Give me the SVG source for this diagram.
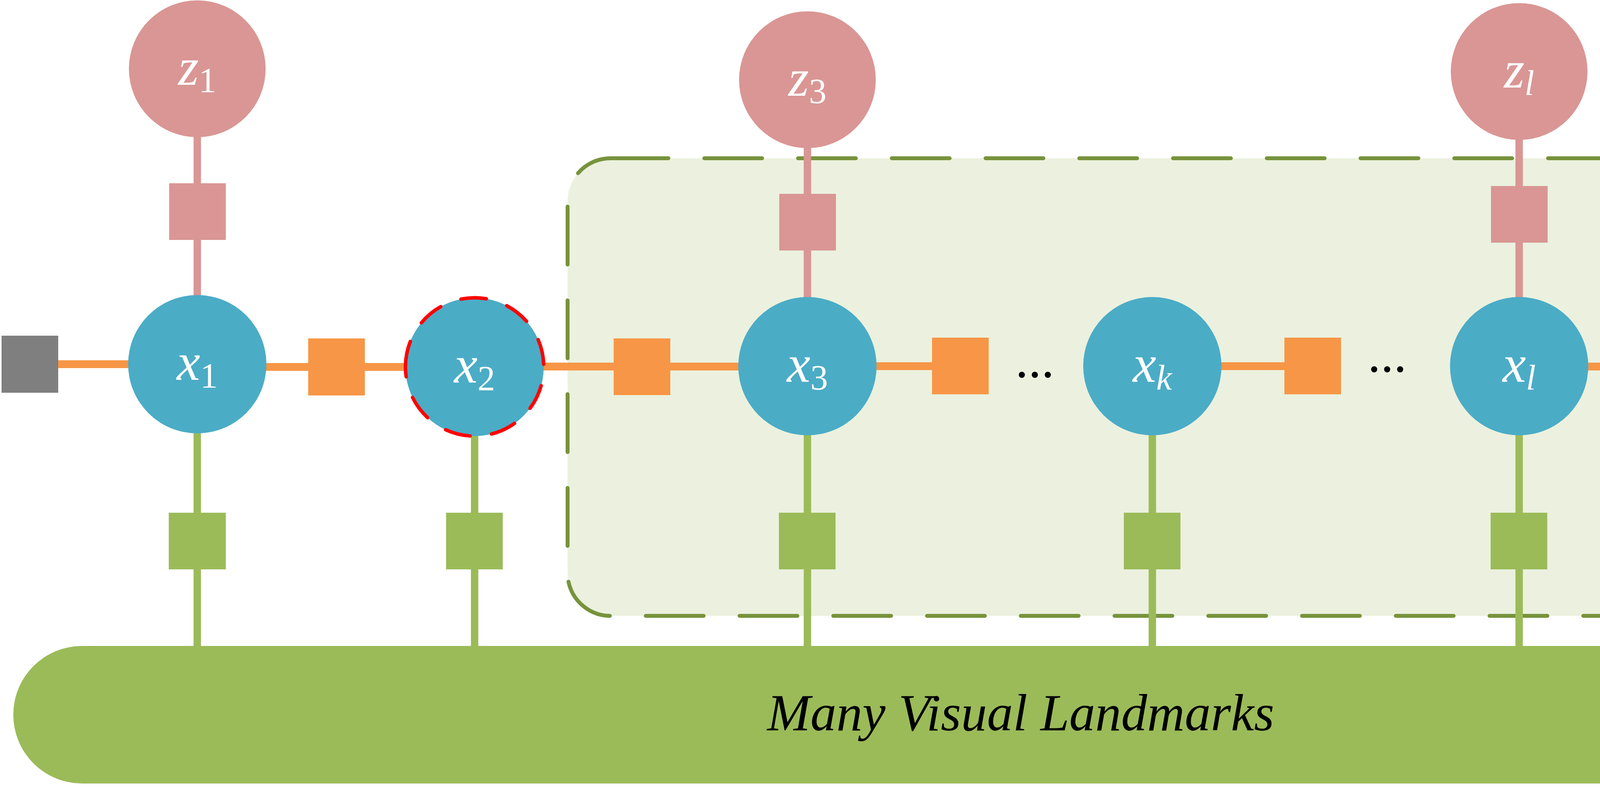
<svg xmlns="http://www.w3.org/2000/svg" width="7420" height="2060" viewBox="0 0 7420 2060">
<style>
text{font-family:'Liberation Serif','Times New Roman',serif}
.t{font-style:italic;font-size:133px;fill:#000}
.lab{font-style:italic;font-size:135px;fill:#fff}
.sub{font-size:90px;font-style:normal}
.subi{font-size:90px;font-style:italic}
.dots{font-size:133px;fill:#000}
.state{fill:#4BACC6}
.meas{fill:#D99694}
.lblf{fill:#D99694}
.imuf{fill:#F79646}
.repf{fill:#9BBB59}
.prior{fill:#7F7F7F}
.lo{stroke:#F79646;stroke-width:20;fill:none}
.lp{stroke:#D99694;stroke-width:19;fill:none}
.lg{stroke:#9BBB59;stroke-width:19;fill:none}
.marg{fill:none;stroke:#FF0000;stroke-width:9;stroke-dasharray:65 55.5;stroke-linecap:round}
</style>
<rect width="7420" height="2060" fill="#fff"/>
<g id="slide-window">
<rect x="1453" y="405" width="2931" height="1171" rx="110" ry="110" fill="#EBF1DE" stroke="#77933C" stroke-width="10" stroke-dasharray="148 92" stroke-linecap="round"/>
</g>
<g id="landmarks">
<rect x="34" y="1653" width="5159" height="352" rx="176" ry="176" fill="#9BBB59"/>
<text class="t" x="2613" y="1869" text-anchor="middle">Many Visual Landmarks</text>
</g>
<g id="connectors">
<line class="lo" x1="149" y1="932" x2="505" y2="932"/>
<line class="lo" x1="505" y1="939" x2="1215" y2="939"/>
<line class="lo" x1="1215" y1="938" x2="2067" y2="938"/>
<line class="lo" x1="2067" y1="937" x2="2458" y2="937"/>
<line class="lo" x1="2950" y1="937" x2="3360" y2="937"/>
<line class="lo" x1="3889" y1="938" x2="4250" y2="938"/>
<line class="lo" x1="4717" y1="940" x2="5004" y2="940" stroke-linecap="round"/>
<line class="lp" x1="505" y1="176" x2="505" y2="932"/>
<line class="lp" x1="2067" y1="204" x2="2067" y2="937"/>
<line class="lp" x1="3889" y1="183" x2="3889" y2="937"/>
<line class="lp" x1="4717" y1="204" x2="4717" y2="940"/>
<line class="lg" x1="505" y1="932" x2="505" y2="1660"/>
<line class="lg" x1="1215" y1="939" x2="1215" y2="1660"/>
<line class="lg" x1="2067" y1="937" x2="2067" y2="1660"/>
<line class="lg" x1="2950" y1="937" x2="2950" y2="1660"/>
<line class="lg" x1="3889" y1="937" x2="3889" y2="1660"/>
<line class="lg" x1="4717" y1="940" x2="4717" y2="1660"/>
</g>
<g id="prior-factor"><rect class="prior" x="4" y="859" width="145" height="146"/></g>
<g id="lbl-factors">
<rect class="lblf" x="433" y="469" width="145" height="145"/>
<rect class="lblf" x="1995" y="496" width="145" height="145"/>
<rect class="lblf" x="3817" y="476" width="145" height="145"/>
<rect class="lblf" x="4645" y="496" width="145" height="145"/>
</g>
<g id="imu-factors">
<rect class="imuf" x="789" y="866" width="145" height="146"/>
<rect class="imuf" x="1571" y="866" width="145" height="145"/>
<rect class="imuf" x="2386" y="864" width="145" height="145"/>
<rect class="imuf" x="3288" y="864" width="145" height="145"/>
<rect class="imuf" x="4178" y="866" width="145" height="145"/>
</g>
<g id="reprojection-factors">
<rect class="repf" x="432" y="1312" width="146" height="145"/>
<rect class="repf" x="1142" y="1312" width="145" height="145"/>
<rect class="repf" x="1994" y="1312" width="145" height="145"/>
<rect class="repf" x="2877" y="1312" width="145" height="145"/>
<rect class="repf" x="3816" y="1312" width="145" height="145"/>
<rect class="repf" x="4644" y="1312" width="145" height="145"/>
</g>
<g id="z1"><circle class="meas" cx="505" cy="176" r="175"/><text class="lab" x="505" y="217" text-anchor="middle">z<tspan class="sub" dy="19">1</tspan></text></g>
<g id="z3"><circle class="meas" cx="2067" cy="204" r="175"/><text class="lab" x="2067" y="245" text-anchor="middle">z<tspan class="sub" dy="19">3</tspan></text></g>
<g id="zl"><circle class="meas" cx="3889" cy="183" r="175"/><text class="lab" x="3889" y="224" text-anchor="middle">z<tspan class="subi" dy="19">l</tspan></text></g>
<g id="zn"><circle class="meas" cx="4717" cy="204" r="175"/><text class="lab" x="4717" y="243" text-anchor="middle">z<tspan class="subi" dy="19">n</tspan></text></g>
<g id="x1"><circle class="state" cx="505" cy="932" r="177"/><text class="lab" x="505" y="972" text-anchor="middle">x<tspan class="sub" dy="20">1</tspan></text></g>
<g id="x2"><circle class="state" cx="1215" cy="939" r="177"/><circle class="marg" cx="1215" cy="939" r="177" transform="rotate(180.6 1215 939)"/><text class="lab" x="1215" y="979" text-anchor="middle">x<tspan class="sub" dy="20">2</tspan></text></g>
<g id="x3"><circle class="state" cx="2067" cy="937" r="177"/><text class="lab" x="2067" y="977" text-anchor="middle">x<tspan class="sub" dy="20">3</tspan></text></g>
<g id="xk"><circle class="state" cx="2950" cy="937" r="177"/><text class="lab" x="2950" y="977" text-anchor="middle">x<tspan class="subi" dy="20">k</tspan></text></g>
<g id="xl"><circle class="state" cx="3889" cy="937" r="177"/><text class="lab" x="3889" y="977" text-anchor="middle">x<tspan class="subi" dy="20">l</tspan></text></g>
<g id="xn"><circle class="state" cx="4717" cy="940" r="177"/><text class="lab" x="4717" y="980" text-anchor="middle">x<tspan class="subi" dy="20">n</tspan></text></g>
<g id="ellipses">
<text class="dots" x="2649" y="965" text-anchor="middle">...</text>
<text class="dots" x="3551" y="951" text-anchor="middle">...</text>
<text class="dots" x="4457" y="947" text-anchor="middle">...</text>
<text class="dots" x="5107" y="953" text-anchor="middle">...</text>
</g>
<g id="legend">
<rect class="prior" x="5508" y="97" width="148" height="147"/>
<text class="t" x="5830" y="213">Prior Factor</text>
<rect class="lblf" x="5508" y="296" width="148" height="148"/>
<text class="t" x="5830" y="407">LBL Factor</text>
<rect class="imuf" x="5508" y="495" width="148" height="146"/>
<text class="t" x="5830" y="615">IMU Preintergration Factor</text>
<rect class="repf" x="5508" y="692" width="148" height="149"/>
<text class="t" x="5830" y="804">Reprojection Factor</text>
<rect x="5503" y="892" width="158" height="148" fill="#EBF1DE" stroke="#77933C" stroke-width="9" stroke-dasharray="29.5 30.5" stroke-dashoffset="25.5" stroke-linecap="round"/>
<text class="t" x="5830" y="1014">Slide Window</text>
<circle class="state" cx="5582" cy="1193" r="104"/>
<text class="t" x="5830" y="1241">State</text>
<circle class="state" cx="5582" cy="1441" r="98"/>
<circle cx="5582" cy="1441" r="99" fill="none" stroke="#FF0000" stroke-width="8" stroke-dasharray="69 53" stroke-linecap="round" transform="rotate(177.4 5582 1441)"/>
<text class="t" x="5830" y="1494">Marginalized State</text>
<circle class="meas" cx="5582" cy="1688" r="96"/>
<text class="t" x="5830" y="1741">LBL Measurement</text>
<rect class="repf" x="5491" y="1835" width="182" height="147" rx="20" ry="20"/>
<text class="t" x="5830" y="1957">Visual Landmarks</text>
</g>
</svg>
